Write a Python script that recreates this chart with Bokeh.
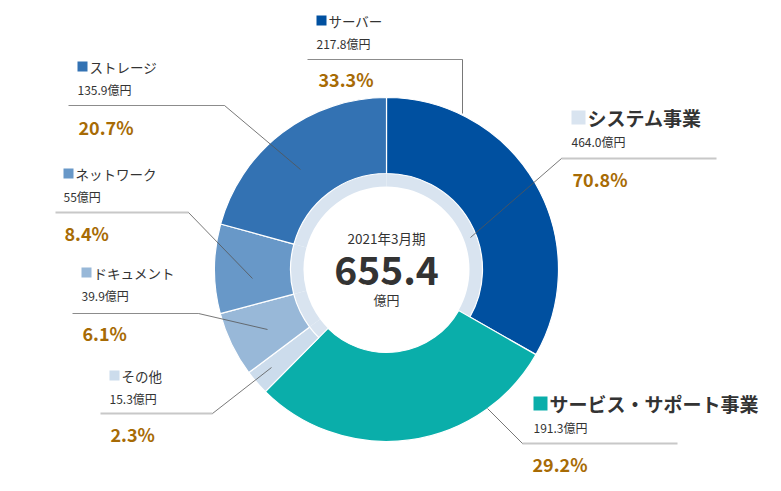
import math
from bokeh.plotting import figure
from bokeh.models import Range1d
from bokeh.core.properties import value
from bokeh.embed import file_html
from bokeh.resources import INLINE

# ---------------- data ----------------
seg_names = ["サーバー", "サービス・サポート事業", "その他", "ドキュメント", "ネットワーク", "ストレージ"]
seg_values = [217.8, 191.3, 15.3, 39.9, 55.0, 135.9]
seg_groups = ["system", "service", "system", "system", "system", "system"]
seg_colors = ["#0050a0", "#0aaeaa", "#ccdcec", "#98b8d8", "#6898c8", "#3372b3"]

sub_names = ["サーバー", "ストレージ", "ネットワーク", "ドキュメント", "その他"]
sub_value_labels = ["217.8億円", "135.9億円", "55億円", "39.9億円", "15.3億円"]
sub_pct_labels = ["33.3%", "20.7%", "8.4%", "6.1%", "2.3%"]
sub_colors = ["#0050a0", "#3372b3", "#6898c8", "#98b8d8", "#ccdcec"]

biz_names = ["システム事業", "サービス・サポート事業"]
biz_value_labels = ["464.0億円", "191.3億円"]
biz_pct_labels = ["70.8%", "29.2%"]
biz_colors = ["#d9e4f0", "#0aaeaa"]

center_title = "2021年3月期"
center_total = "655.4"
center_unit = "億円"

# ---------------- layout (pixel-based coords) ----------------
W, H = 765, 475
def X(px):
    return px
def Y(py):
    return H - py

p = figure(width=W, height=H, output_backend="svg", toolbar_location=None,
           x_range=Range1d(0, W), y_range=Range1d(0, H), min_border=0)
p.axis.visible = False
p.grid.visible = False
p.outline_line_color = None
p.background_fill_color = "white"

cx, cy = X(386), Y(269)
R_OUT, R_MID, R_IN = 172, 96, 83

total = sum(seg_values)
cum = 0.0
starts, ends = [], []
for v in seg_values:
    starts.append(math.pi / 2 - 2 * math.pi * cum / total)
    cum += v
    ends.append(math.pi / 2 - 2 * math.pi * cum / total)

inner_r = [R_IN if g == "service" else R_MID for g in seg_groups]
# inner light ring under system segments
for s, e, g in zip(starts, ends, seg_groups):
    if g == "system":
        p.annular_wedge(x=cx, y=cy, inner_radius=R_IN, outer_radius=R_MID + 0.5,
                        start_angle=s, end_angle=e, direction="clock",
                        fill_color=biz_colors[0], line_color=None)
p.annular_wedge(x=[cx] * len(seg_values), y=[cy] * len(seg_values),
                inner_radius=inner_r, outer_radius=R_OUT,
                start_angle=starts, end_angle=ends, direction="clock",
                fill_color=seg_colors, line_color="white", line_width=1.2)

FONT = value("Noto Sans CJK JP")
TXT = "#333333"
PCT = "#a76b05"
LIGHT = "#c8c8c8"
DARK = "#6e6e6e"

def label(sq_x, sq_y, sq_color, name, name_size, bold, val, pct, pct_x, pct_y,
          line_pts, hline_color, hline_w):
    s = 14 if bold else 10
    p.rect(x=X(sq_x + s / 2), y=Y(sq_y), width=s, height=s, fill_color=sq_color, line_color=None)
    p.text(x=[X(sq_x + s + 2)], y=[Y(sq_y)], text=[name], text_font=FONT,
           text_font_size=name_size, text_font_style="bold" if bold else "normal",
           text_color=TXT, text_baseline="middle", text_align="left")
    p.text(x=[X(sq_x)], y=[Y(sq_y + (24 if bold else 23))], text=[val], text_font=FONT,
           text_font_size="12px", text_color=TXT, text_baseline="middle", text_align="left")
    p.text(x=[X(pct_x)], y=[Y(pct_y)], text=[pct], text_font=FONT,
           text_font_size="18px", text_font_style="bold", text_color=PCT,
           text_baseline="middle", text_align="left")
    (x0, y0), (x1, y1), (x2, y2) = line_pts
    p.line([X(x0), X(x1)], [Y(y0), Y(y1)], line_color=hline_color, line_width=hline_w)
    p.line([X(x1), X(x2)], [Y(y1), Y(y2)], line_color="#555555", line_width=0.8)

# sub-segment labels
label(316, 20, sub_colors[0], sub_names[0], "13.5px", False, sub_value_labels[0], sub_pct_labels[0],
      318, 78, [(307, 59), (462, 59), (462, 113)], DARK, 0.8)
label(77, 66, sub_colors[1], sub_names[1], "13.5px", False, sub_value_labels[1], sub_pct_labels[1],
      78, 126, [(68, 105), (224, 105), (300, 169)], DARK, 0.8)
label(63, 173, sub_colors[2], sub_names[2], "13.5px", False, sub_value_labels[2], sub_pct_labels[2],
      64, 232, [(55, 212), (188, 212), (252, 278)], LIGHT, 1.8)
label(81, 272, sub_colors[3], sub_names[3], "13.5px", False, sub_value_labels[3], sub_pct_labels[3],
      82, 332, [(72, 313), (198, 313), (267, 329)], DARK, 0.8)
label(109, 375, sub_colors[4], sub_names[4], "13.5px", False, sub_value_labels[4], sub_pct_labels[4],
      110, 433, [(100, 413), (212, 413), (271, 367)], LIGHT, 1.8)

# business labels
label(571, 117, biz_colors[0], biz_names[0], "19px", True, biz_value_labels[0], biz_pct_labels[0],
      572, 178, [(716, 158), (561, 158), (470, 237)], LIGHT, 1.8)
label(533, 403, biz_colors[1], biz_names[1], "19px", True, biz_value_labels[1], biz_pct_labels[1],
      532, 463, [(677, 443), (522, 443), (487, 408)], LIGHT, 1.8)

# center texts
p.text(x=[cx], y=[Y(237)], text=[center_title], text_font=FONT, text_font_size="13.5px",
       text_color=TXT, text_baseline="middle", text_align="center")
p.text(x=[cx], y=[Y(270)], text=[center_total], text_font=FONT, text_font_size="39px",
       text_font_style="bold", text_color=TXT, text_baseline="middle", text_align="center")
p.text(x=[cx], y=[Y(299)], text=[center_unit], text_font=FONT, text_font_size="13px",
       text_color=TXT, text_baseline="middle", text_align="center")

open("out.html", "w").write(file_html(p, INLINE))
